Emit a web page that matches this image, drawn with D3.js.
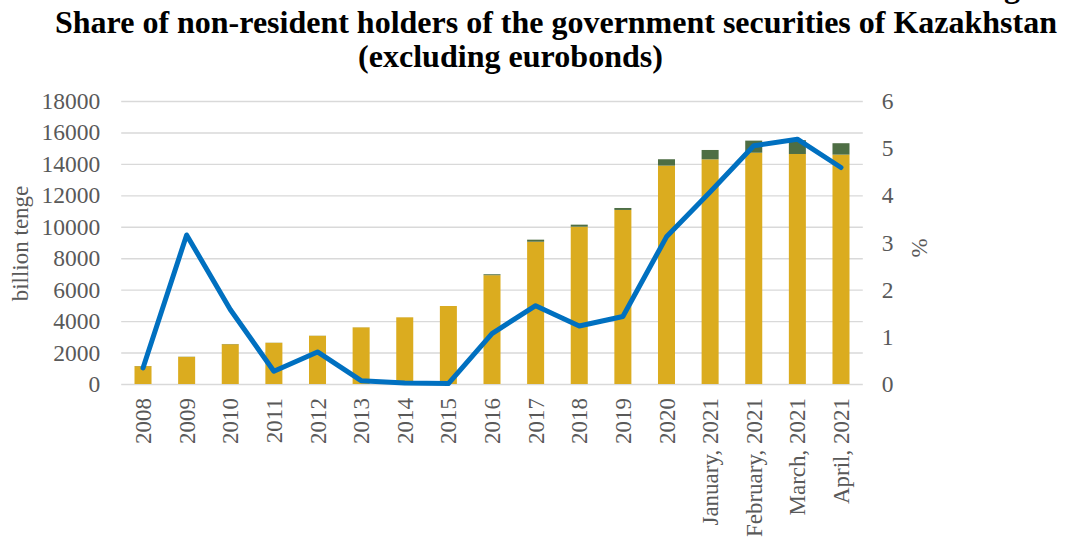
<!DOCTYPE html>
<html>
<head>
<meta charset="utf-8">
<script src="https://cdn.jsdelivr.net/npm/d3@7"></script>
<style>
  html, body { margin: 0; padding: 0; background: #ffffff; }
  svg { display: block; }
  text { font-family: "Liberation Serif", "Times New Roman", serif; }
</style>
</head>
<body>
<script>
// Periods on the category axis
const categories = ["2008", "2009", "2010", "2011", "2012", "2013", "2014", "2015",
  "2016", "2017", "2018", "2019", "2020",
  "January, 2021", "February, 2021", "March, 2021", "April, 2021"];

// Government securities held by residents, billion tenge (lower bar segment)
const residentHoldings = [1135, 1725, 2530, 2620, 3065, 3600, 4240, 4960,
  6920, 9050, 10005, 11070, 13890, 14290, 14710, 14630, 14590];

// Government securities held by non-residents, billion tenge (upper bar segment)
const nonResidentHoldings = [10, 12, 15, 8, 8, 5, 2, 1,
  60, 130, 130, 125, 405, 595, 770, 880, 725];

// Share of non-residents, % (right axis)
const nonResidentShare = [0.34, 3.16, 1.58, 0.27, 0.68, 0.07, 0.02, 0.01,
  1.07, 1.66, 1.23, 1.43, 3.12, 4.07, 5.05, 5.19, 4.59];

const leftTicks = [0, 2000, 4000, 6000, 8000, 10000, 12000, 14000, 16000, 18000];
const rightTicks = [0, 1, 2, 3, 4, 5, 6];

const titleLines = ["Share of non-resident holders of the government securities of Kazakhstan",
  "(excluding eurobonds)"];

const W = 1067, H = 544;
const plot = { left: 121.2, right: 862.8, top: 101, bottom: 384 };
const colors = { resident: "#dbac1f", nonResident: "#4e6e44", line: "#0070c0",
  grid: "#d9d9d9", label: "#595959" };

const svg = d3.select("body").append("svg").attr("width", W).attr("height", H);

const x = d3.scaleBand().domain(categories)
  .range([plot.left, plot.right]).paddingInner(0.61).paddingOuter(0.305);
const yL = d3.scaleLinear().domain([0, 18000]).range([plot.bottom, plot.top]);
const yR = d3.scaleLinear().domain([0, 6]).range([plot.bottom, plot.top]);

// Horizontal gridlines
const grid = svg.append("g").attr("transform", `translate(${plot.left},0)`)
  .call(d3.axisLeft(yL).tickValues(leftTicks).tickSize(-(plot.right - plot.left)).tickFormat(""));
grid.select(".domain").remove();
grid.selectAll("line").attr("stroke", colors.grid).attr("stroke-width", 1.4);

// Stacked bars
const rows = categories.map((c, i) => ({ cat: c, res: residentHoldings[i], non: nonResidentHoldings[i] }));
const stacked = d3.stack().keys(["res", "non"])(rows);
const barColor = { res: colors.resident, non: colors.nonResident };
svg.append("g").selectAll("g").data(stacked).join("g")
  .attr("fill", d => barColor[d.key])
  .selectAll("rect").data(d => d).join("rect")
  .attr("x", d => x(d.data.cat))
  .attr("width", x.bandwidth())
  .attr("y", d => yL(d[1]))
  .attr("height", d => yL(d[0]) - yL(d[1]));

// Share line
const line = d3.line()
  .x((d, i) => x(categories[i]) + x.bandwidth() / 2)
  .y(d => yR(d));
svg.append("path").datum(nonResidentShare)
  .attr("d", line)
  .attr("fill", "none")
  .attr("stroke", colors.line)
  .attr("stroke-width", 5)
  .attr("stroke-linejoin", "round")
  .attr("stroke-linecap", "round");

// Axes
const tickFont = 23.5;
const leftAxis = svg.append("g").attr("transform", `translate(${plot.left},0)`)
  .call(d3.axisLeft(yL).tickValues(leftTicks).tickSize(0).tickPadding(21).tickFormat(d3.format("d")));
const rightAxis = svg.append("g").attr("transform", `translate(${plot.right},0)`)
  .call(d3.axisRight(yR).tickValues(rightTicks).tickSize(0).tickPadding(19).tickFormat(d3.format("d")));
const bottomAxis = svg.append("g").attr("transform", `translate(0,${plot.bottom})`)
  .call(d3.axisBottom(x).tickSize(0));
[leftAxis, rightAxis, bottomAxis].forEach(g => {
  g.select(".domain").remove();
  g.selectAll("text").attr("fill", colors.label)
    .style("font-family", '"Liberation Serif", serif').style("font-size", tickFont + "px");
});
bottomAxis.selectAll("text")
  .style("font-size", "23px")
  .attr("transform", "rotate(-90)")
  .attr("x", -14).attr("y", 0).attr("dy", "0.35em")
  .style("text-anchor", "end");

// Axis titles
svg.append("text").attr("transform", "translate(28,243.5) rotate(-90)")
  .attr("text-anchor", "middle").attr("fill", colors.label)
  .style("font-size", "23px").text("billion tenge");
svg.append("text").attr("transform", "translate(927,248) rotate(-90)")
  .attr("text-anchor", "middle").attr("fill", colors.label)
  .style("font-size", "23px").text("%");

// Title: tall, condensed bold lines
const title = svg.append("g").attr("font-weight", "bold").attr("fill", "#000");
title.append("text").attr("x", 556).attr("y", 33).attr("text-anchor", "middle")
  .attr("textLength", 1002).attr("lengthAdjust", "spacingAndGlyphs")
  .style("font-size", "32px").text(titleLines[0]);
title.append("text").attr("x", 510.5).attr("y", 67).attr("text-anchor", "middle")
  .attr("textLength", 305).attr("lengthAdjust", "spacingAndGlyphs")
  .style("font-size", "32px").text(titleLines[1]);
// Tail of the line above, cut by the page edge
title.append("text").attr("x", 1012).attr("y", -3).attr("text-anchor", "middle")
  .style("font-size", "32px").text("g");
</script>
</body>
</html>
